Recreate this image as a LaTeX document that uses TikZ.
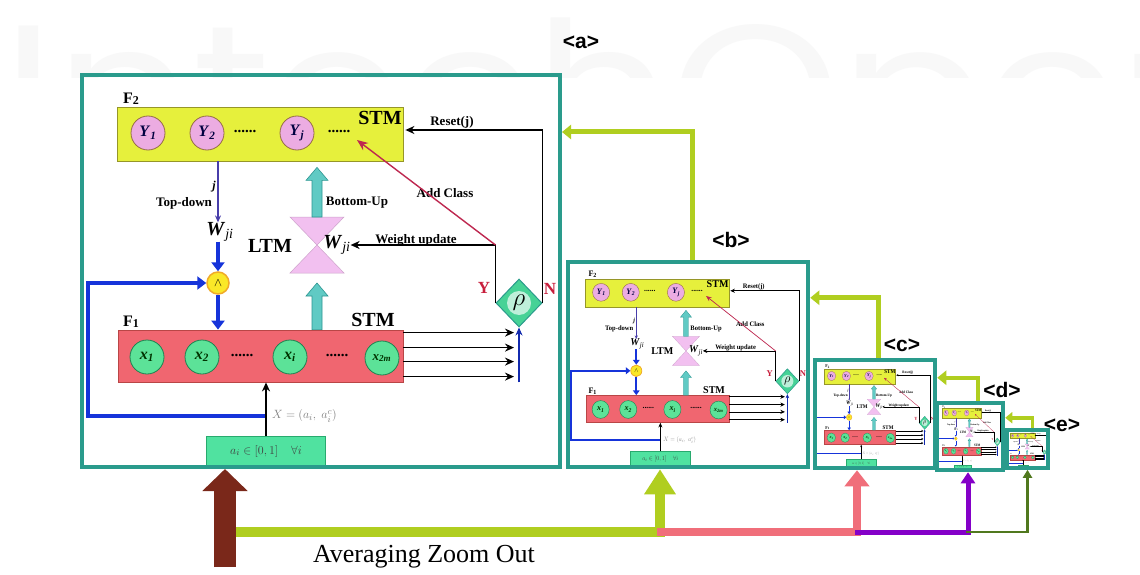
\documentclass[tikz,border=0pt]{standalone}
\usepackage{fontspec}
\setmainfont{Liberation Serif}
\newfontfamily\tagfont{Liberation Sans}
\newfontfamily\wmfont{Poppins}
\usetikzlibrary{arrows.meta,shapes.geometric,calc}
\newcommand\fsz[1]{\fontsize{#1}{#1}\selectfont}
\newcommand\bisub[2]{\textbf{\textit{#1}}\textsubscript{\textbf{\textit{#2}}}}
\newcommand\wji{\textbf{\textit{W}}\textsubscript{\textit{ji}}}
\definecolor{teal1}{RGB}{42,155,140}
\definecolor{yelF}{RGB}{230,240,60}
\definecolor{yelD}{RGB}{150,150,40}
\definecolor{pinkC}{RGB}{236,172,226}
\definecolor{pinkD}{RGB}{150,110,70}
\definecolor{redF}{RGB}{240,102,112}
\definecolor{redD}{RGB}{185,70,70}
\definecolor{grnC}{RGB}{92,226,152}
\definecolor{grnD}{RGB}{30,130,80}
\definecolor{hgpink}{RGB}{242,192,240}
\definecolor{cyF}{RGB}{96,202,196}
\definecolor{cyD}{RGB}{45,150,145}
\definecolor{blueT}{RGB}{22,52,218}
\definecolor{tdblue}{RGB}{72,62,170}
\definecolor{andY}{RGB}{250,232,40}
\definecolor{andO}{RGB}{240,170,40}
\definecolor{rhoG}{RGB}{70,210,150}
\definecolor{crim}{RGB}{200,30,60}
\definecolor{acl}{RGB}{190,40,80}
\definecolor{inG}{RGB}{80,226,160}
\definecolor{inD}{RGB}{40,170,110}
\definecolor{brownA}{RGB}{122,40,26}
\definecolor{ygA}{RGB}{176,206,32}
\definecolor{salA}{RGB}{240,110,122}
\definecolor{purA}{RGB}{132,0,200}
\definecolor{dgA}{RGB}{80,120,30}
\definecolor{wm}{RGB}{248,248,248}
\tikzset{
  txt/.style={inner sep=0pt, outer sep=0pt},
  lbl/.style={txt, font=\fsz{13}\bfseries},
  stm/.style={txt, font=\fsz{20}\bfseries},
  ycirc/.style={circle, draw=pinkD, line width=0.8pt, fill=pinkC, minimum size=34pt, inner sep=0pt, font=\fsz{16}, text=black!75!blue},
  xcirc/.style={circle, draw=grnD, line width=0.8pt, fill=grnC, minimum size=34pt, inner sep=0pt, font=\fsz{16}, text=black!80!green},
  dotsn/.style={txt, font=\fsz{15}\bfseries},
  layer/.style={rectangle, line width=0.8pt, inner sep=0pt},
  frame/.style={rectangle, draw=teal1, line width=4pt, inner sep=0pt},
  blk/.style={draw=black, line width=1.5pt, -{Stealth[length=9pt,width=8pt]}},
  bluearr/.style={draw=blueT, line width=3.5pt, -{Triangle[length=9pt,width=13pt]}},
  fatarr/.style={fill=cyF, draw=cyD, line width=0.6pt},
  ygc/.style={draw=ygA, line width=5pt, -{Triangle[length=9pt,width=14pt]}},
  tagst/.style={txt, font=\tagfont\bfseries\fsz{21}},
}
\newcommand\fatarrow[2]{%
  \draw[fatarr] ($(#1)+(-5,0)$) -- ($(#2)+(-5,13)$) -- ($(#2)+(-11,13)$) -- (#2)
    -- ($(#2)+(11,13)$) -- ($(#2)+(5,13)$) -- ($(#1)+(5,0)$) -- cycle;}
\newcommand\artnet{%
  % F2 layer
  \node[txt, font=\fsz{16}\bfseries, anchor=west] (F2lbl) at (123,99) {F\raisebox{-1.5pt}{\fsz{12}2}};
  \node[layer, fill=yelF, draw=yelD, minimum width=286pt, minimum height=54pt] (F2box) at (260,134) {};
  \node[ycirc] (y1) at (148,133) {\bisub{Y}{1}};
  \node[ycirc] (y2) at (207,133) {\bisub{Y}{2}};
  \node[dotsn] (yd1) at (245,131) {......};
  \node[ycirc] (yj) at (297,133) {\bisub{Y}{j}};
  \node[dotsn] (yd2) at (339,131) {......};
  \node[stm] (stm2) at (380,118) {STM};
  % F1 layer
  \node[txt, font=\fsz{16}\bfseries, anchor=west] (F1lbl) at (123,322) {F\raisebox{-1.5pt}{\fsz{12}1}};
  \node[layer, fill=redF, draw=redD, minimum width=285pt, minimum height=52pt] (F1box) at (260.5,356) {};
  \node[xcirc] (x1) at (147,357) {\bisub{x}{1}};
  \node[xcirc] (x2) at (202,357) {\bisub{x}{2}};
  \node[dotsn] (xd1) at (242,355) {......};
  \node[xcirc] (xi) at (290,357) {\bisub{x}{i}};
  \node[dotsn] (xd2) at (337,355) {......};
  \node[xcirc, font=\fsz{13}] (x2m) at (382,358) {\bisub{x}{2m}};
  \node[stm] (stm1) at (373,320) {STM};
  % LTM hourglass
  \coordinate (hg) at (317,245);
  \draw[fill=hgpink, draw=hgpink!85!black, line width=0.5pt] (hg) ++(-27,-28) -- ++(54,0) -- ++(-54,56) -- ++(54,0) -- cycle;
  \path (hg) ++(0,-28) coordinate (hgT);
  \path (hg) ++(0,38) coordinate (hgB);
  \path (F2box.south -| hg) ++(0,6) coordinate (cyTip1);
  \path (F1box.north -| hg) coordinate (cyTail2);
  \fatarrow{hgT}{cyTip1}
  \fatarrow{cyTail2}{hgB}
  \node[txt, font=\fsz{20}\bfseries] (ltm) at (270,246) {LTM};
  \node[txt, font=\fsz{20}] (wji1) at (220,232) {\wji};
  \node[txt, font=\fsz{20}] (wji2) at (337,245) {\wji};
  \node[lbl] (tdl) at (184,203) {Top-down};
  \node[txt, font=\fsz{12}\bfseries\itshape] (jl) at (214,187) {j};
  \node[lbl] (bul) at (357,203) {Bottom-Up};
  \node[lbl] (wul) at (416,240) {Weight update};
  \node[lbl] (acl) at (445,193) {Add Class};
  \node[lbl] (rsl) at (452,122) {Reset(j)};
  % AND node
  \node[circle, fill=andY, draw=andO, line width=1.5pt, minimum size=22pt, inner sep=0pt, font=\fsz{13}] (andc) at (218,283) {$\wedge$};
  \draw[draw=tdblue, line width=1.2pt, -{Stealth[length=7pt,width=6pt]}] (F2box.south -| andc) -- (wji1.north -| andc);
  \draw[bluearr] (wji1.south -| andc) -- (andc.north);
  \draw[bluearr] (andc.south) -- (F1box.north -| andc);
  % input
  \node[rectangle, fill=inG, draw=inD, line width=1pt, minimum width=119pt, minimum height=29pt, inner sep=0pt, font=\fsz{13}, text=black!75] (inbox) at (266,451) {$a_i\in[0,1]\quad\forall i$};
  \path (inbox.north) ++(0,-20) coordinate (fb);
  \draw[bluearr] (fb) -- ++(-178,0) |- (andc.west);
  \draw[blk, line width=2pt] (inbox.north) -- (F1box.south -| inbox);
  \node[txt, text=gray, font=\fsz{13}, anchor=west] (xlab) at (272,416) {$X=(a_i,\ a_i^{c})$};
  % orienting subsystem
  \node[diamond, aspect=1, fill=rhoG, draw=teal1, line width=1pt, minimum width=46pt, minimum height=48pt, inner sep=0pt] (rho) at (519,303) {};
  \node[circle, fill=white!65!rhoG, minimum size=24pt, inner sep=0pt, font=\fsz{24}] (rhoin) at (rho) {$\rho$};
  \node[txt, text=crim, font=\fsz{17}\bfseries] (ylab) at (484,288) {Y};
  \node[txt, text=crim, font=\fsz{17}\bfseries] (nlab) at (550,289) {N};
  \draw[blk] (rho.west) |- (wji2.east);
  \path (F2box.east) ++(2,-4) coordinate (rst);
  \draw[blk] (rho.east) |- (rst);
  \coordinate (addc) at (357,140);
  \draw[draw=acl, line width=1.4pt, -{Stealth[length=11pt,width=9pt]}] (rho.west |- wji2.east) -- (addc);
  \foreach \dy in {3,18,32,47}{
    \draw[blk] ($(F1box.north east)+(0,\dy)$) -- ($(F1box.north east -| rho.south)+(-5,\dy)$);
  }
  \draw[draw=blueT!80!black, line width=1.6pt, -{Stealth[length=8pt,width=7pt]}] (F1box.south -| rho.south) -- (rho.south);
}
\newcommand\panelat[5]{%
  \begin{scope}[name prefix=#1-, transform canvas={shift={(#2,#3)}, xscale=#4, yscale=#5, shift={(-82,-75)}}]
    \artnet
  \end{scope}}
\begin{document}
\begin{tikzpicture}[x=1pt,y=-1pt]
\useasboundingbox[fill=white] (0,0) rectangle (1140,575);
% watermark
\begin{scope}
  \clip (0,0) rectangle (1140,78);
  \node[anchor=base west, inner sep=0pt, text=wm, font=\wmfont\fsz{190}] (wmk) at (2,158) {\scalebox{1.13}[1]{IntechOpen}};
\end{scope}
% panel contents
\panelat{a}{82}{75}{1}{1}
\panelat{b}{568}{262}{0.502}{0.523}
\panelat{c}{815}{360}{0.251}{0.2755}
\panelat{d}{937}{403}{0.138}{0.171}
\panelat{e}{1007}{430}{0.0858}{0.097}
% frames
\node[frame, minimum width=478pt, minimum height=392pt] (pa) at (321,271) {};
\node[frame, line width=4.5pt, minimum width=240pt, minimum height=205pt] (pb) at (688,364.5) {};
\node[frame, line width=4.5pt, minimum width=120pt, minimum height=108pt] (pc) at (875,414) {};
\node[frame, line width=4.5pt, minimum width=66pt, minimum height=67pt] (pd) at (970,436.5) {};
\node[frame, line width=3.5pt, minimum width=41pt, minimum height=38pt] (pe) at (1027.5,449) {};
% tags
\node[tagst] (ta) at (581,42) {<a>};
\node[tagst] (tb) at (731,240) {<b>};
\node[tagst] (tc) at (902,345) {<c>};
\node[tagst] (td) at (1002,390) {<d>};
\node[tagst] (te) at (1062,425) {<e>};
% inter-panel connectors
\draw[ygc] ($(pb.north)+(4,0)$) |- ($(pa.north east)+(0,59)$);
\draw[ygc] ($(pc.north)+(3,0)$) |- ($(pb.north east)+(0,38)$);
\draw[ygc, line width=4pt] ($(pd.north)+(8,0)$) |- ($(pc.north east)+(0,20)$);
\draw[ygc, line width=3.5pt, -{Triangle[length=7pt,width=11pt]}] ($(pe.north)+(5,0)$) |- ($(pd.north east)+(0,17)$);
% bottom arrows
\coordinate (brbot) at (225,567);
\coordinate (ygs) at (230,532);
\coordinate (j1) at (657,532);
\coordinate (j2) at (855,532);
\coordinate (j3) at (966,532);
\draw[draw=ygA, line width=10pt, line cap=round, -{Triangle[length=25pt,width=30pt]}] (ygs) -| ($(pb.south)+(-28,0)$);
\draw[draw=salA, line width=8pt, -{Triangle[length=16pt,width=24pt]}] (j1) -| ($(pc.south)+(-18,0)$);
\draw[draw=purA, line width=5pt, -{Triangle[length=11pt,width=14pt]}] (j2) -| ($(pd.south)+(-2,0)$);
\draw[draw=dgA, line width=2.5pt, -{Triangle[length=8pt,width=9pt]}] (j3) -| (pe.south);
\draw[draw=brownA, line width=22pt, -{Triangle[length=22pt,width=44pt]}] (brbot) -- (brbot |- pa.south);
\node[txt, font=\fsz{26}] (azo) at (424,557) {Averaging Zoom Out};
\end{tikzpicture}
\end{document}
